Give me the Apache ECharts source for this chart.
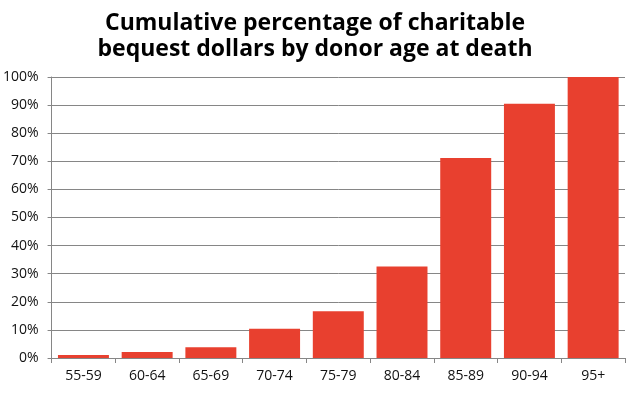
<!DOCTYPE html>
<html><head><meta charset="utf-8">
<script src="https://cdn.jsdelivr.net/npm/echarts@6/dist/echarts.min.js"></script>
<style>html,body{margin:0;padding:0;background:#fff}#c{width:630px;height:394px}</style>
</head><body><div id="c"></div>
<script>
const categories = ['55-59','60-64','65-69','70-74','75-79','80-84','85-89','90-94','95+'];
const values = [1.1, 2.1, 3.8, 10.4, 16.6, 32.6, 71.2, 90.5, 100];
const titleLines = ['Cumulative percentage of charitable', 'bequest dollars by donor age at death'];

const chart = echarts.init(document.getElementById('c'));
chart.setOption({
  animation: false,
  title: {
    text: titleLines.join('\n'),
    left: 'center', top: 5,
    textStyle: { fontFamily: 'Open Sans', fontWeight: 'bold', fontSize: 23, lineHeight: 26, color: '#000' }
  },
  grid: { left: 51, right: 5, top: 77, bottom: 36 },
  xAxis: {
    type: 'category', data: categories,
    axisLine: { lineStyle: { color: '#868686' } },
    axisTick: { show: true, length: 5, lineStyle: { color: '#868686' } },
    axisLabel: { fontFamily: 'Open Sans', fontSize: 14, color: '#111', margin: 11 }
  },
  yAxis: {
    type: 'value', min: 0, max: 100, interval: 10,
    axisLine: { show: true, lineStyle: { color: '#868686' } },
    axisTick: { show: true, length: 4, lineStyle: { color: '#868686' } },
    splitLine: { lineStyle: { color: '#868686' } },
    axisLabel: { formatter: '{value}%', fontFamily: 'Open Sans', fontSize: 14, color: '#111', margin: 13 }
  },
  series: [{
    type: 'bar', data: values, barCategoryGap: '20%',
    itemStyle: { color: '#E8402F' }
  }]
});
</script></body></html>
